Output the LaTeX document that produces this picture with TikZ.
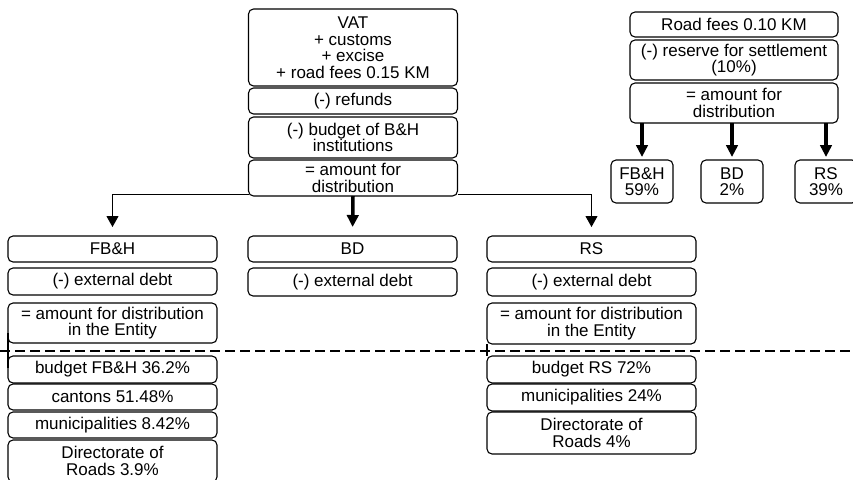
\documentclass[tikz,border=0pt]{standalone}
\usepackage{fontspec}
\setmainfont{Liberation Sans}
\usepackage{tikz}
\usetikzlibrary{arrows.meta, positioning}

\begin{document}
\begin{tikzpicture}[
        x=1pt, y=1pt,
        box/.style={rectangle, rounded corners=5pt, draw, line width=1.1pt, minimum width=209pt, minimum height=27pt,
            inner xsep=2pt, inner ysep=0pt, outer sep=0pt, align=center, font=\fontsize{17}{16.5}\selectfont},
        smallbox/.style={box, minimum width=62pt, minimum height=43pt},
        arrowline/.style={-{Triangle[length=11pt, width=12pt]}, line width=1pt},
        thickarrow/.style={-{Triangle[length=12pt, width=11.5pt]}, line width=3.5pt}
    ]
        \useasboundingbox (0,0) rectangle (853,-479);

        % collected revenues
        \node[box, anchor=north, minimum height=77pt] (vat) at (353,-9) {VAT\\+ customs\\+ excise\\+ road fees 0.15 KM};
        \node[box, below=2pt of vat, minimum height=26pt] (refunds) {(-) refunds};
        \node[box, below=3pt of refunds, minimum height=41pt] (instit) {(-) budget of B\&H\\institutions};
        \node[box, below=2pt of instit, minimum height=36pt] (distr) {= amount for\\distribution};

        % road fees 0.10
        \node[box, anchor=north, minimum width=208pt, minimum height=25pt] (roadfees) at (734,-12) {Road fees 0.10 KM};
        \node[box, below=3pt of roadfees, minimum width=208pt, minimum height=40pt] (reserve) {(-) reserve for settlement\\(10\%)};
        \node[box, below=3pt of reserve, minimum width=208pt, minimum height=40pt] (rdistr) {= amount for\\distribution};
        \node[smallbox, anchor=north] (sbd) at (732,-160) {BD\\2\%};
        \node[smallbox, left=28pt of sbd] (sfbh) {FB\&H\\59\%};
        \node[smallbox, right=32pt of sbd] (srs) {RS\\39\%};

        % entities
        \node[box, anchor=north, minimum height=26pt] (fbh) at (112.5,-236) {FB\&H};
        \node[box, right=31pt of fbh, minimum height=26pt] (bd) {BD};
        \node[box, right=30pt of bd, minimum height=26pt] (rs) {RS};

        \node[box, below=6pt of fbh] (fdebt) {(-) external debt};
        \node[box, below=8pt of fdebt, minimum height=40pt] (fent) {= amount for distribution\\in the Entity};
        \node[box, below=13pt of fent] (fbud) {budget FB\&H 36.2\%};
        \node[box, below=1pt of fbud, minimum height=26pt] (fcant) {cantons 51.48\%};
        \node[box, below=2pt of fcant, minimum height=26pt] (fmun) {municipalities 8.42\%};
        \node[box, below=2pt of fmun, minimum height=42pt] (fdir) {Directorate of\\Roads 3.9\%};

        \node[box, below=6pt of bd, minimum height=28pt] (bdebt) {(-) external debt};

        \node[box, below=6pt of rs, minimum height=28pt] (rdebt) {(-) external debt};
        \node[box, below=7pt of rdebt, minimum height=41pt] (rent) {= amount for distribution\\in the Entity};
        \node[box, below=12pt of rent] (rbud) {budget RS 72\%};
        \node[box, below=1pt of rbud] (rmun) {municipalities 24\%};
        \node[box, below=1pt of rmun, minimum height=42pt] (rdir) {Directorate of\\Roads 4\%};

        % arrows
        \draw[arrowline, shorten >=9pt] ([yshift=2pt]distr.south west) -| (fbh.north);
        \draw[arrowline, shorten >=9pt] ([yshift=2pt]distr.south east) -| (rs.north);
        \draw[thickarrow, shorten >=9pt] (distr.south) -- (bd.north);
        \draw[thickarrow, shorten >=3pt] (sfbh.north |- rdistr.south) -- (sfbh.north);
        \draw[thickarrow, shorten >=3pt] (sbd.north |- rdistr.south) -- (sbd.north);
        \draw[thickarrow, shorten >=3pt] (srs.north |- rdistr.south) -- (srs.north);

        % separator
        \coordinate (sepL) at (0,-351);
        \coordinate (sepR) at (853,-351);
        \draw[line width=2.2pt, dash pattern=on 10pt off 5pt] (sepL) -- (sepR);
        \draw[line width=1.1pt] (fent.south west) -- (fbud.north west);
        \draw[line width=1.1pt] (rent.south west) -- (rbud.north west);
        \draw[line width=2.5pt] ([yshift=10pt]fent.south west) -- ([yshift=-12pt]fbud.north west);
    \end{tikzpicture}
\end{document}
